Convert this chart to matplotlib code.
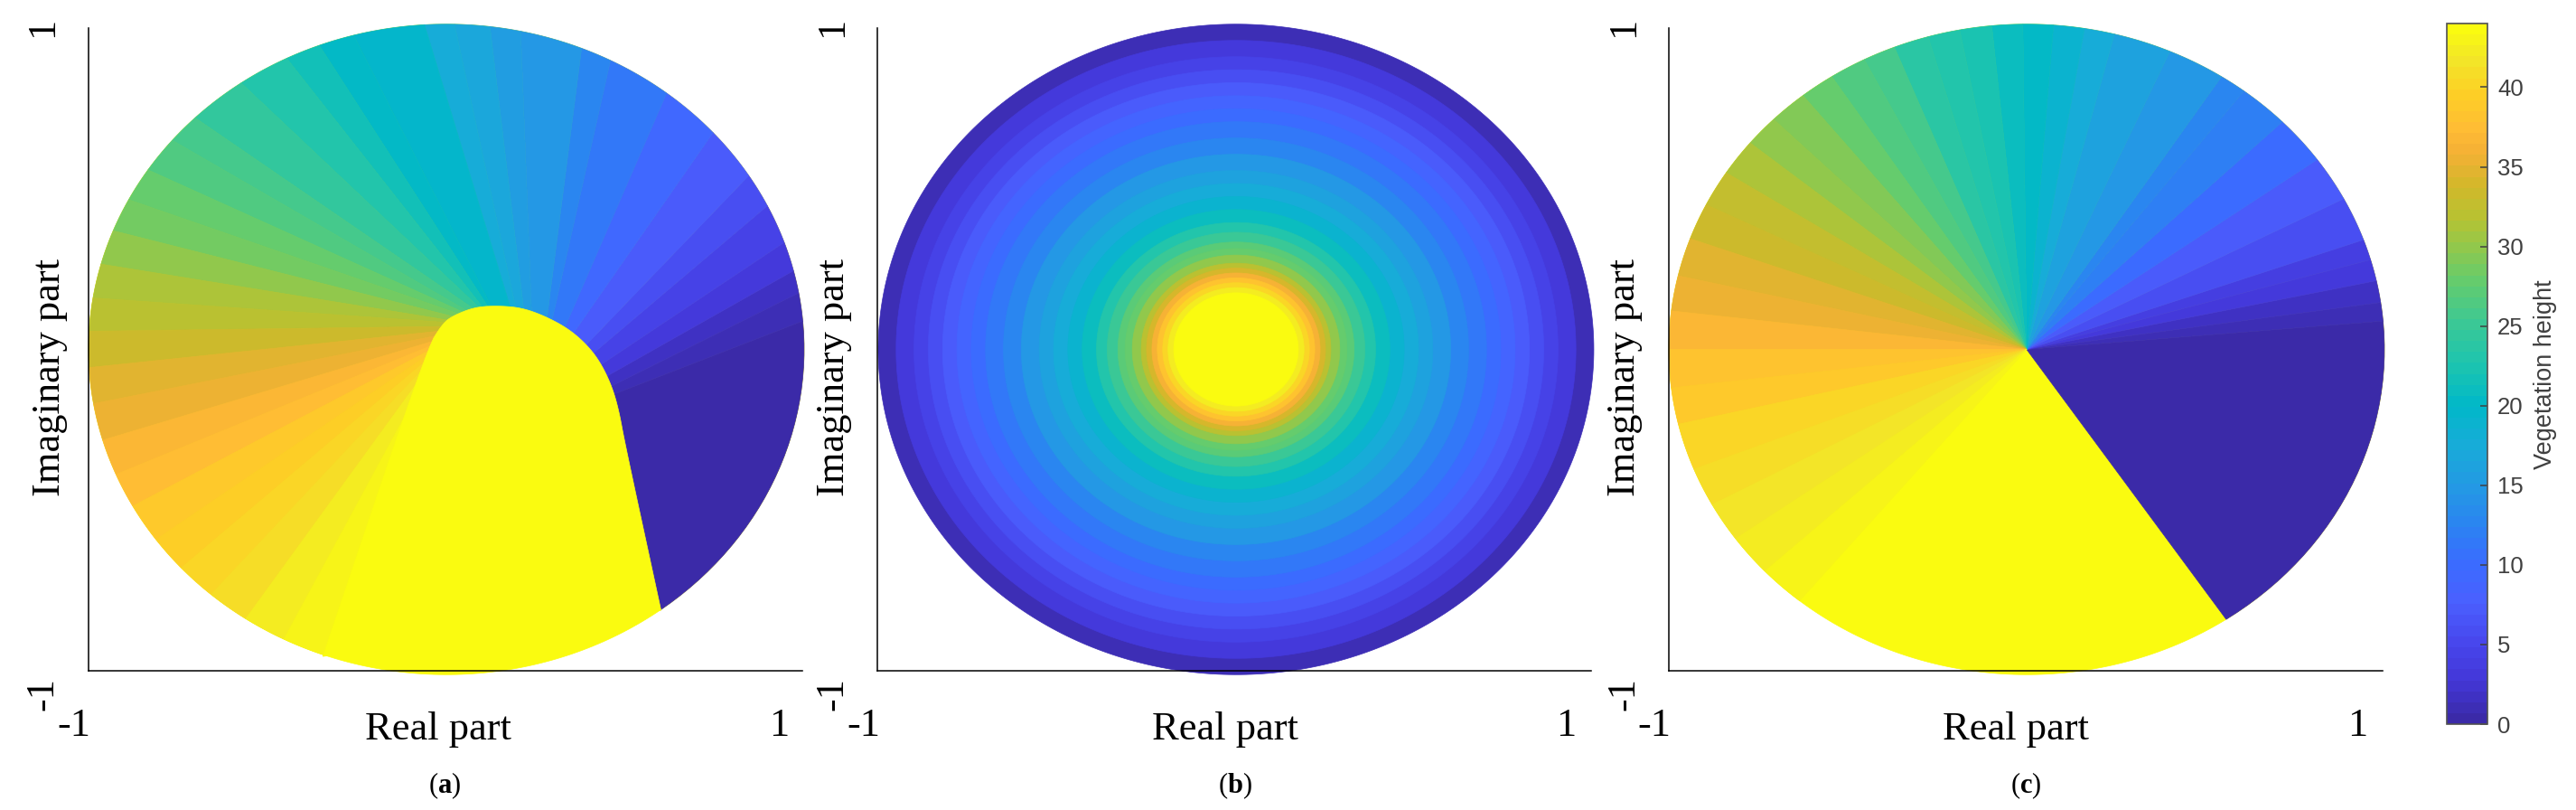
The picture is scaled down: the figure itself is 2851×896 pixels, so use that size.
import numpy as np
import matplotlib
matplotlib.use('Agg')
import matplotlib.pyplot as plt
from matplotlib.cm import ScalarMappable
from matplotlib.colors import LinearSegmentedColormap, Normalize

plt.rcParams['font.family'] = ['Liberation Serif']
plt.rcParams['mathtext.fontset'] = 'custom'
plt.rcParams['mathtext.bf'] = 'Liberation Serif:bold'
plt.rcParams['mathtext.rm'] = 'Liberation Serif'

W, H = 2851, 896
vmax = 44

# colour steps
cb_values = [0, 2.5, 5, 7.5, 10, 12.5, 15, 17.5, 20, 22.5, 25, 28, 30, 32, 34, 35, 36, 37.5, 40, 42, 44]
cb_colors = ['#3b2aa8', '#4337d8', '#4848ee', '#4a60ff', '#3a6cff', '#2a85f0', '#239be3', '#17acd8',
             '#00b8c8', '#1cc4b0', '#38c898', '#66cc6c', '#90c84c', '#b8c232', '#d2b82a', '#e2b430',
             '#f3b035', '#ffbb35', '#fdd025', '#f2e628', '#fafb10']
cb_ticks = [0, 5, 10, 15, 20, 25, 30, 35, 40]

# panel (a): wedge edges on the rim (degrees), their end near the hump, and wedge heights
a_rim = [-53.2, 5, 10, 14, 19.2, 26.2, 32.3, 41.8, 52, 62.7, 67.8, 78, 83, 88.7, 93.5, 105, 110.8, 116.5,
         125, 134.6, 140, 146.5, 152.6, 158.6, 164.8, 170.9, 176.8, 183.2, 189.6, 196.2, 202.6, 208.8,
         215.8, 222.2, 228.9, 235.9, 243, 250]
a_in_x = [.6, .479, .47, .455, .436, .413, .398, .368, .345, .306, .291, .245, .222, .199, .184, .13, .122,
          .107, .1, .084, .069, .061, .054, .046, .031, .023, .011, .005, -.005, -.011, -.014, -.017,
          -.023, -.031, -.038, -.04, -.04, -.04]
a_in_y = [-.802, -.151, -.127, -.095, -.059, -.024, .008, .056, .079, .1, .106, .127, .132, .135, .135, .135,
          .135, .135, .135, .135, .127, .124, .119, .111, .103, .1, .09, .079, .068, .056, .048, .04,
          .032, .021, .008, .004, .004, .004]
a_vals = [0, 1, 2, 3, 4.5, 6, 7.5, 9.5, 11.5, 13, 14.5, 15.5, 16.5, 17.5, 19.5, 20.5, 21.5, 23, 24.5, 25.5,
          26.5, 27.5, 28.5, 30, 31, 32, 33.5, 34.5, 35.5, 36.5, 37.5, 38.5, 39.5, 40, 41, 42, 43]

# outline of the yellow hump in panel (a), left foot to right foot
hump_x = [-.345, -.056, -.01, .023, .083, .149, .209, .268, .335, .386, .427, .461, .482, .499, .6]
hump_y = [-.944, -.002, .081, .106, .131, .134, .128, .106, .068, .022, -.033, -.108, -.186, -.289, -.802]

# panel (b): outer radius of each ring and its height
b_radius = [1, .95, .90, .86, .82, .78, .74, .70, .65, .60, .55, .51, .47, .43, .39, .36, .33, .31, .29,
            .265, .25, .235, .22, .205, .19, .174]
b_vals = [1, 3, 4.5, 5.5, 7, 8.5, 10, 11.5, 13, 14.5, 16, 17.5, 19, 21, 23, 25, 27, 28, 30,
          32, 34, 36, 38, 40, 42, 44]

# panel (c): wedges all meet at the origin
c_rim = [-56.1, 5, 8.3, 12.2, 16, 19.7, 27.6, 35.7, 44.4, 52.6, 57, 66.4, 75.8, 80.7, 85.7, 90.6, 95.6, 100.8,
         106, 111.7, 117, 123, 128.7, 135, 140.6, 147.1, 153.6, 160.1, 166.9, 173.2, 180, 186.8, 193.3,
         201.6, 208.5, 215.6, 223, 230.6, 238.9]
c_vals = [0, 1, 2, 3, 4, 5.5, 7.5, 10, 12, 12.7, 14.5, 16, 17.5, 19, 20, 21, 22, 23, 24, 25.5, 26.5, 28, 29,
          30, 31, 32.5, 33.5, 34.5, 35.5, 37, 38, 39, 40, 41, 41.5, 42, 42.8]

cmap = LinearSegmentedColormap.from_list('veg', [(v / vmax, c) for v, c in zip(cb_values, cb_colors)], N=64)
norm = Normalize(0, vmax)

rx, ry = 1.0025, 1.012


def colour(v):
    return cmap(norm(v))


def disc(ax, cx, r, v):
    t = np.linspace(0, 2 * np.pi, 400)
    ax.fill(cx + r * rx * np.cos(t), r * ry * np.sin(t), color=colour(v), lw=0.5, clip_on=False)


def wedges(ax, cx, rim, vals, in_x, in_y):
    for i, v in enumerate(vals):
        t = np.radians(np.linspace(rim[i], rim[i + 1], 30))
        xs = np.r_[cx + rx * np.cos(t), cx + rx * in_x[i + 1], cx + rx * in_x[i]]
        ys = np.r_[ry * np.sin(t), ry * in_y[i + 1], ry * in_y[i]]
        ax.fill(xs, ys, color=colour(v), lw=0.5, clip_on=False)


def round_corners(xs, ys, passes=3):
    # corner cutting, the two feet of the outline stay where they are
    xs, ys = np.array(xs), np.array(ys)
    for _ in range(passes):
        qx = .75 * xs[:-1] + .25 * xs[1:]
        qy = .75 * ys[:-1] + .25 * ys[1:]
        rx_ = .25 * xs[:-1] + .75 * xs[1:]
        ry_ = .25 * ys[:-1] + .75 * ys[1:]
        xs = np.r_[xs[0], np.column_stack([qx, rx_]).ravel(), xs[-1]]
        ys = np.r_[ys[0], np.column_stack([qy, ry_]).ravel(), ys[-1]]
    return xs, ys


def px_axes(x0, y0, x1, y1):
    return fig.add_axes([x0 / W, 1 - y1 / H, (x1 - x0) / W, (y1 - y0) / H])


def put(x, y, s, size=32, **kw):
    fig.text(x / W, 1 - y / H, s, fontsize=size, ha='center', va='center', **kw)


fig = plt.figure(figsize=(W / 100, H / 100), dpi=100)

panels = [
    # axes box, centre shift, then x of ylabel, y ticks, -1, 1, xlabel, caption
    ((98, 31, 888, 742), .0025, 55, 47, 82, 862, 485, 492, 'a'),
    ((971, 31, 1761, 742), .005, 923, 921, 956, 1733, 1356, 1367, 'b'),
    ((1847, 31, 2637, 742), .0025, 1798, 1797, 1831, 2609, 2231, 2242, 'c'),
]
for box, cx, xlab, ytick, xm, xp, xreal, xcap, tag in panels:
    ax = px_axes(*box)
    ax.set_xlim(-1, 1)
    ax.set_ylim(-1, 1)
    ax.set_xticks([])
    ax.set_yticks([])
    ax.spines['top'].set_visible(False)
    ax.spines['right'].set_visible(False)
    ax.spines['left'].set_linewidth(1.1)
    ax.spines['bottom'].set_linewidth(1.1)
    if tag == 'a':
        disc(ax, cx, 1, 44)
        # pull the wedge tips under the hump so that no seam shows
        tip_x = np.array(a_in_x)
        tip_y = np.array(a_in_y)
        tip_x[1:] = .18 + (tip_x[1:] - .18) * .9
        tip_y[1:] = -.1 + (tip_y[1:] + .1) * .9
        wedges(ax, cx, a_rim, a_vals, tip_x, tip_y)
        hx, hy = round_corners(hump_x, hump_y)
        ax.fill(cx + rx * hx, ry * hy, color=colour(44), lw=0.5, clip_on=False)
    elif tag == 'b':
        for r, v in zip(b_radius, b_vals):
            disc(ax, cx, r, v)
    else:
        disc(ax, cx, 1, 44)
        wedges(ax, cx, c_rim, c_vals, np.zeros(len(c_rim)), np.zeros(len(c_rim)))
    put(xlab, 417, 'Imaginary part', rotation=90)
    put(ytick, 30, '1', rotation=90)
    put(ytick, 768, '-1', rotation=90)
    put(xm, 803, '-1')
    put(xp, 803, '1')
    put(xreal, 807, 'Real part')
    put(xcap, 869, '(' + r'$\mathbf{' + tag + '}$' + ')', size=22)

cax = px_axes(2708, 26, 2753, 801)
cb = fig.colorbar(ScalarMappable(norm=norm, cmap=cmap), cax=cax)
cb.set_ticks(cb_ticks)
cb.ax.tick_params(direction='in', length=5.5, width=1.1, color='#404040', labelcolor='#404040', pad=8)
for lab in cb.ax.get_yticklabels():
    lab.set_family('Liberation Sans')
    lab.set_fontsize(18.5)
cb.outline.set_edgecolor('#505050')
cb.outline.set_linewidth(1.2)
fig.text(2817 / W, 1 - 414 / H, 'Vegetation height', rotation=90, fontsize=19.5, color='#404040',
         family='Liberation Sans', ha='center', va='center')

fig.savefig('out.png', dpi=100)
